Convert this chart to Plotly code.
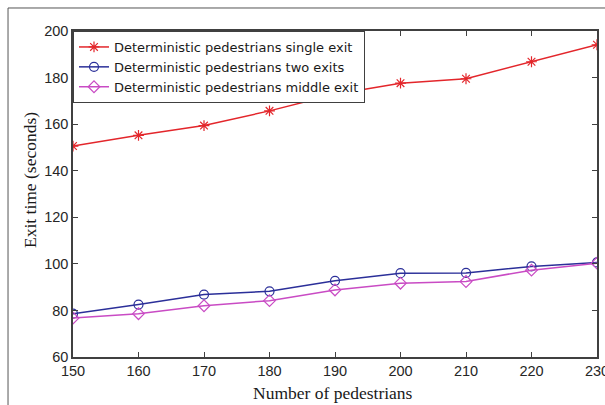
import plotly.graph_objects as go

pedestrians = [150, 160, 170, 180, 190, 200, 210, 220, 230]
single_exit = [150.6, 155.2, 159.4, 165.7, 172.8, 177.6, 179.5, 186.8, 194.1]
two_exits = [78.6, 82.5, 86.8, 88.2, 92.7, 96.0, 96.1, 98.9, 100.6]
middle_exit = [76.7, 78.6, 82.0, 84.2, 88.8, 91.7, 92.4, 97.3, 100.3]
x_ticks = [150, 160, 170, 180, 190, 200, 210, 220, 230]
y_ticks = [60, 80, 100, 120, 140, 160, 180, 200]

fig = go.Figure()
fig.add_trace(go.Scatter(x=pedestrians, y=single_exit, mode="lines+markers",
                         name="Deterministic pedestrians single exit",
                         line=dict(color="#e3262b", width=1.5),
                         marker=dict(symbol="asterisk-open", size=9,
                                     line=dict(color="#e3262b", width=1.2))))
fig.add_trace(go.Scatter(x=pedestrians, y=two_exits, mode="lines+markers",
                         name="Deterministic pedestrians two exits",
                         line=dict(color="#2b2f99", width=1.5),
                         marker=dict(symbol="circle-open", size=9,
                                     line=dict(color="#2b2f99", width=1.2))))
fig.add_trace(go.Scatter(x=pedestrians, y=middle_exit, mode="lines+markers",
                         name="Deterministic pedestrians middle exit",
                         line=dict(color="#c94bc4", width=1.5),
                         marker=dict(symbol="diamond-open", size=9,
                                     line=dict(color="#c94bc4", width=1.2))))

axis_common = dict(showline=True, linecolor="#404040", linewidth=1.5, mirror="ticks",
                   ticks="inside", ticklen=5, tickcolor="#404040", tickwidth=1,
                   showgrid=False, zeroline=False, ticklabeloverflow="allow",
                   automargin=False,
                   tickfont=dict(family="Liberation Sans, Arial", size=14.5, color="#262626"))

title_font = dict(family="Liberation Serif, Times New Roman", size=17.5, color="#1a1a1a")

fig.update_layout(
    width=605, height=405,
    margin=dict(l=73, r=8, t=31, b=48, autoexpand=False),
    paper_bgcolor="white", plot_bgcolor="white",
    showlegend=True,
    legend=dict(x=0, y=1, xanchor="left", yanchor="top",
                bordercolor="#404040", borderwidth=1, bgcolor="white",
                font=dict(family="DejaVu Sans", size=13, color="#1a1a1a"),
                tracegroupgap=0),
    xaxis=dict(range=[150, 230], tickvals=x_ticks, **axis_common),
    yaxis=dict(range=[60, 200], tickvals=y_ticks, **axis_common),
    annotations=[
        dict(text="Number of pedestrians", xref="paper", yref="paper",
             x=(333 - 73) / 524, y=(357 - 393) / 326, xanchor="center", yanchor="middle",
             showarrow=False, font=title_font),
        dict(text="Exit time (seconds)", xref="paper", yref="paper",
             x=(30 - 73) / 524, y=(357 - 180) / 326, xanchor="center", yanchor="middle",
             textangle=-90, showarrow=False, font=title_font),
    ],
    shapes=[
        dict(type="line", xref="paper", yref="paper", x0=-0.124, x1=1.02, y0=1.0706, y1=1.0706,
             line=dict(color="#555555", width=1)),
        dict(type="line", xref="paper", yref="paper", x0=-0.124, x1=-0.124, y0=1.0706, y1=-0.2,
             line=dict(color="#555555", width=1)),
    ],
)

fig.write_html("out.html")
